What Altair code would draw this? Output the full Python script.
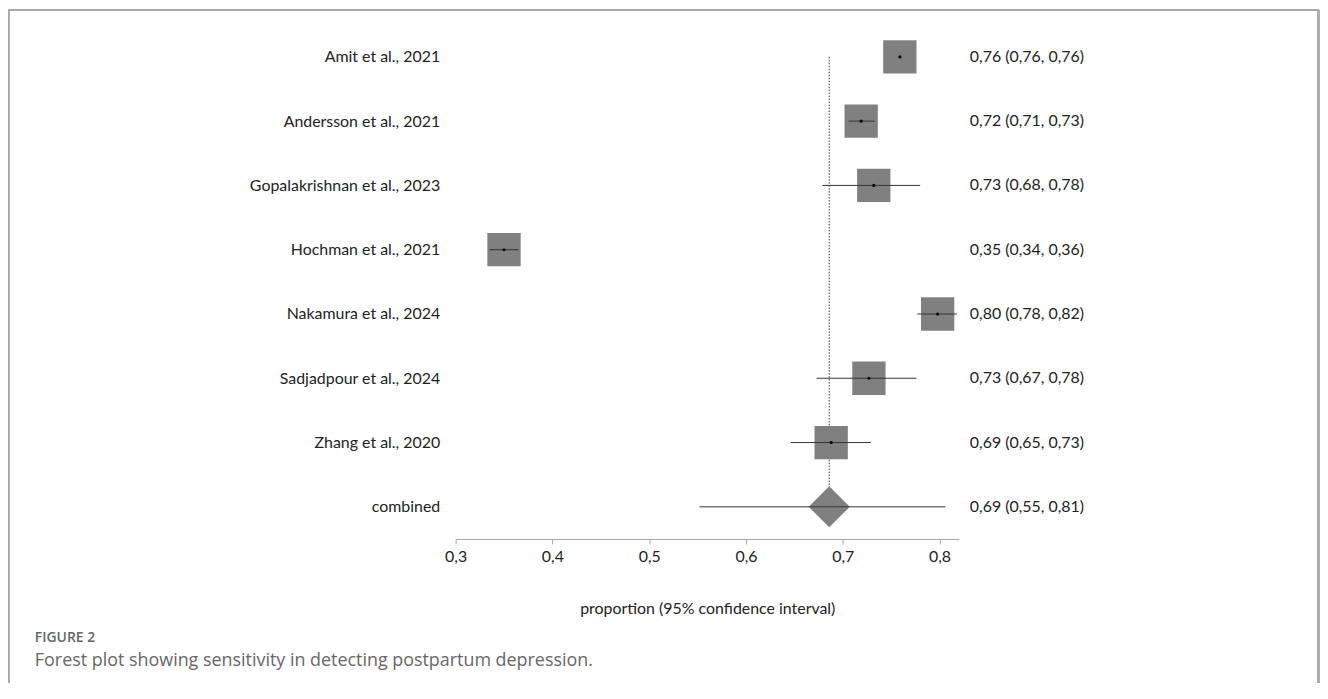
import altair as alt
import pandas as pd

# ---- data ----
studies = [
    "Amit et al., 2021",
    "Andersson et al., 2021",
    "Gopalakrishnan et al., 2023",
    "Hochman et al., 2021",
    "Nakamura et al., 2024",
    "Sadjadpour et al., 2024",
    "Zhang et al., 2020",
]
estimate = [0.759, 0.719, 0.732, 0.350, 0.798, 0.727, 0.688]
lower = [0.758, 0.706, 0.679, 0.335, 0.777, 0.673, 0.646]
upper = [0.760, 0.733, 0.780, 0.365, 0.818, 0.776, 0.729]
ci_text = [
    "0,76 (0,76, 0,76)",
    "0,72 (0,71, 0,73)",
    "0,73 (0,68, 0,78)",
    "0,35 (0,34, 0,36)",
    "0,80 (0,78, 0,82)",
    "0,73 (0,67, 0,78)",
    "0,69 (0,65, 0,73)",
]
combined_label = "combined"
combined_est = 0.686
combined_lower = 0.552
combined_upper = 0.806
combined_text = "0,69 (0,55, 0,81)"

x_ticks = [0.3, 0.4, 0.5, 0.6, 0.7, 0.8]
x_title = "proportion (95% confidence interval)"
fig_label = "FIGURE 2"
fig_caption = "Forest plot showing sensitivity in detecting postpartum depression."

order = studies + [combined_label]

studies_df = pd.DataFrame({"study": studies, "est": estimate, "lo": lower, "hi": upper, "txt": ci_text})
comb_df = pd.DataFrame({"study": [combined_label], "est": [combined_est], "lo": [combined_lower],
                        "hi": [combined_upper], "txt": [combined_text]})
all_df = pd.concat([studies_df, comb_df], ignore_index=True)
ref_df = pd.DataFrame({"x": [combined_est], "y1": [studies[0]], "y2": [combined_label]})

FONT = "Lato"
FS = 16
W, H = 506, 517
PAD_L = 450

xscale = alt.Scale(domain=[0.3, 0.82], nice=False, zero=False)
yscale = alt.Scale(domain=order, type="point", padding=0.5)

x_axis = alt.Axis(
    values=x_ticks,
    labelExpr="replace(format(datum.value, '.1f'), '.', ',')",
    labelFlush=False,
    title=x_title,
    grid=False,
    domainColor="#a6a6a6",
    tickColor="#a6a6a6",
    tickSize=5,
    labelPadding=5,
    labelFont=FONT,
    labelFontSize=FS,
    labelColor="#222222",
    titleFont=FONT,
    titleFontSize=FS,
    titleFontWeight="normal",
    titleColor="#222222",
    titlePadding=36,
)
y_axis = alt.Axis(
    title=None,
    domain=False,
    ticks=False,
    grid=False,
    labelPadding=16,
    labelLimit=0,
    labelFont=FONT,
    labelFontSize=FS,
    labelColor="#222222",
)

base = alt.Chart(all_df)

ref_line = alt.Chart(ref_df).mark_rule(color="#333333", strokeWidth=1, strokeDash=[1.5, 1.5]).encode(
    x=alt.X("x:Q", scale=xscale, axis=x_axis),
    y=alt.Y("y1:N", scale=yscale, axis=y_axis),
    y2="y2:N",
)

squares = alt.Chart(studies_df).mark_square(size=1122, color="#808080", opacity=1).encode(
    x=alt.X("est:Q", scale=xscale),
    y=alt.Y("study:N", scale=yscale),
)

diamond = alt.Chart(comb_df).mark_point(shape="diamond", size=1700, filled=True,
                                         color="#808080", opacity=1).encode(
    x=alt.X("est:Q", scale=xscale),
    y=alt.Y("study:N", scale=yscale),
)

ci = base.mark_rule(color="#333333", strokeWidth=1).encode(
    x=alt.X("lo:Q", scale=xscale),
    x2="hi:Q",
    y=alt.Y("study:N", scale=yscale),
)

dots = alt.Chart(studies_df).mark_circle(size=10, color="#000000", opacity=1).encode(
    x=alt.X("est:Q", scale=xscale),
    y=alt.Y("study:N", scale=yscale),
)

values = base.mark_text(align="left", baseline="middle", font=FONT, fontSize=FS,
                        color="#222222").encode(
    x=alt.value(517),
    y=alt.Y("study:N", scale=yscale),
    text="txt:N",
)

# figure frame (left, top, right)
fx_left = -PAD_L + 0.5
fx_right = 1319 - PAD_L - 1.5
frame_left = alt.Chart(all_df).mark_rule(color="#a8a8a8", strokeWidth=1.5).encode(
    x=alt.value(fx_left), y=alt.value(-14.5), y2=alt.value(H + 160))
frame_top = alt.Chart(all_df).mark_rule(color="#a8a8a8", strokeWidth=1.5).encode(
    x=alt.value(fx_left), x2=alt.value(fx_right), y=alt.value(-14.5))
frame_right = alt.Chart(all_df).mark_rule(color="#a8a8a8", strokeWidth=1.5).encode(
    x=alt.value(fx_right), y=alt.value(-14.5), y2=alt.value(H + 160))

cap_x = 35 - 8 - PAD_L
cap_label = alt.Chart(pd.DataFrame({"t": [fig_label]})).mark_text(
    align="left", baseline="alphabetic", font="Open Sans", fontSize=14, fontWeight=600,
    color="#666666").encode(x=alt.value(cap_x), y=alt.value(621), text="t:N")
cap_text = alt.Chart(pd.DataFrame({"t": [fig_caption]})).mark_text(
    align="left", baseline="alphabetic", font="Open Sans", fontSize=18,
    color="#666666").encode(x=alt.value(cap_x), y=alt.value(644.5), text="t:N")

chart = alt.layer(
    ref_line, squares, diamond, ci, dots, values,
    frame_left, frame_top, frame_right, cap_label, cap_text,
).properties(
    width=W,
    height=H,
    autosize=alt.AutoSizeParams(type="none"),
    padding={"left": PAD_L, "top": 15, "right": 1319 - PAD_L - W, "bottom": 143},
    background="white",
).configure_view(strokeWidth=0, stroke=None)

chart.save("out.html", embed_options={"renderer": "svg", "actions": False})
